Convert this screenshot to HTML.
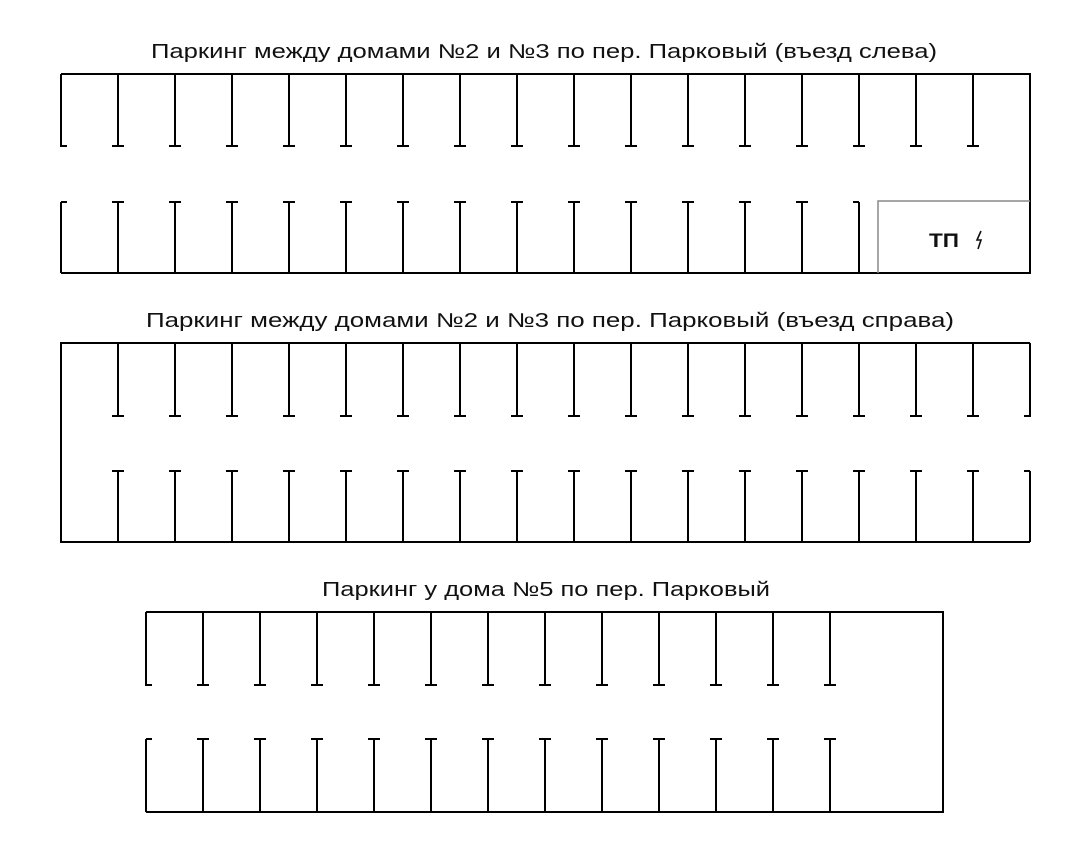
<!DOCTYPE html>
<html><head><meta charset="utf-8"><style>
html,body{margin:0;padding:0;background:#fff;width:1090px;height:842px;overflow:hidden}
text{font-family:"Liberation Sans","DejaVu Sans",sans-serif;fill:#111}
</style></head><body>
<svg width="1090" height="842" viewBox="0 0 1090 842" xmlns="http://www.w3.org/2000/svg">
<g fill="none" stroke="#000" stroke-width="2">
<!-- Box 1 -->
<path d="M61 74 H1030 V273 H61 M61 74 V146 h6 M61 202 h6 M61 202 V273"/>
<path d="M118 74V146M112 146h12 M175 74V146M169 146h12 M232 74V146M226 146h12 M289 74V146M283 146h12 M346 74V146M340 146h12 M403 74V146M397 146h12 M460 74V146M454 146h12 M517 74V146M511 146h12 M574 74V146M568 146h12 M631 74V146M625 146h12 M688 74V146M682 146h12 M745 74V146M739 146h12 M802 74V146M796 146h12 M859 74V146M853 146h12 M916 74V146M910 146h12 M973 74V146M967 146h12"/>
<path d="M118 202V273M112 202h12 M175 202V273M169 202h12 M232 202V273M226 202h12 M289 202V273M283 202h12 M346 202V273M340 202h12 M403 202V273M397 202h12 M460 202V273M454 202h12 M517 202V273M511 202h12 M574 202V273M568 202h12 M631 202V273M625 202h12 M688 202V273M682 202h12 M745 202V273M739 202h12 M802 202V273M796 202h12 M859 202V273M853 202h6"/>
<!-- Box 2 -->
<path d="M1030 343 H61 V542 H1030 M1030 343 V416 h-6 M1030 471 h-6 M1030 471 V542"/>
<path d="M118 343V416M112 416h12 M175 343V416M169 416h12 M232 343V416M226 416h12 M289 343V416M283 416h12 M346 343V416M340 416h12 M403 343V416M397 416h12 M460 343V416M454 416h12 M517 343V416M511 416h12 M574 343V416M568 416h12 M631 343V416M625 416h12 M688 343V416M682 416h12 M745 343V416M739 416h12 M802 343V416M796 416h12 M859 343V416M853 416h12 M916 343V416M910 416h12 M973 343V416M967 416h12"/>
<path d="M118 471V542M112 471h12 M175 471V542M169 471h12 M232 471V542M226 471h12 M289 471V542M283 471h12 M346 471V542M340 471h12 M403 471V542M397 471h12 M460 471V542M454 471h12 M517 471V542M511 471h12 M574 471V542M568 471h12 M631 471V542M625 471h12 M688 471V542M682 471h12 M745 471V542M739 471h12 M802 471V542M796 471h12 M859 471V542M853 471h12 M916 471V542M910 471h12 M973 471V542M967 471h12"/>
<!-- Box 3 -->
<path d="M146 612 H943 V812 H146 M146 612 V685 h6 M146 739 h6 M146 739 V812"/>
<path d="M203 612V685M197 685h12 M260 612V685M254 685h12 M317 612V685M311 685h12 M374 612V685M368 685h12 M431 612V685M425 685h12 M488 612V685M482 685h12 M545 612V685M539 685h12 M602 612V685M596 685h12 M659 612V685M653 685h12 M716 612V685M710 685h12 M773 612V685M767 685h12 M830 612V685M824 685h12"/>
<path d="M203 739V812M197 739h12 M260 739V812M254 739h12 M317 739V812M311 739h12 M374 739V812M368 739h12 M431 739V812M425 739h12 M488 739V812M482 739h12 M545 739V812M539 739h12 M602 739V812M596 739h12 M659 739V812M653 739h12 M716 739V812M710 739h12 M773 739V812M767 739h12 M830 739V812M824 739h12"/>
</g>
<path d="M878 273 V201 H1030" fill="none" stroke="#888" stroke-width="1.5"/>
<text x="929" y="247" font-size="19" font-weight="bold" textLength="30" lengthAdjust="spacingAndGlyphs">ТП</text>
<path d="M981 231 L977 240 L981 240 L978 249" fill="none" stroke="#111" stroke-width="1.6"/>
<text x="544" y="58" font-size="20" text-anchor="middle" textLength="786" lengthAdjust="spacingAndGlyphs">Паркинг между домами №2 и №3 по пер. Парковый (въезд слева)</text>
<text x="550" y="327" font-size="20" text-anchor="middle" textLength="808" lengthAdjust="spacingAndGlyphs">Паркинг между домами №2 и №3 по пер. Парковый (въезд справа)</text>
<text x="546" y="596" font-size="20" text-anchor="middle" textLength="448" lengthAdjust="spacingAndGlyphs">Паркинг у дома №5 по пер. Парковый</text>
</svg>
</body></html>
